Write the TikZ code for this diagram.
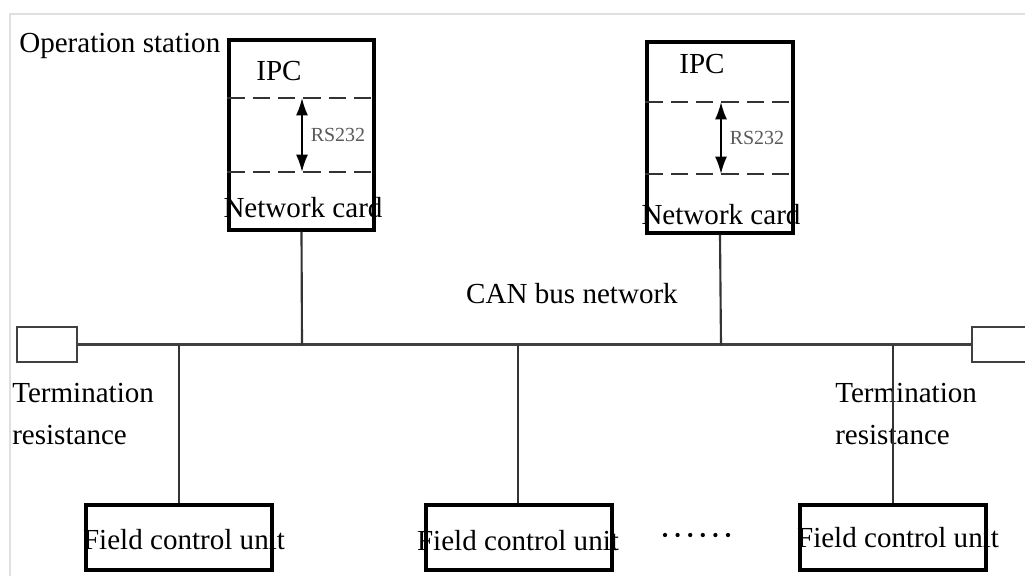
\documentclass[tikz,border=0pt]{standalone}
\usepackage{fontspec}
\setmainfont{Liberation Serif}
\usetikzlibrary{arrows.meta}
\begin{document}
\begin{tikzpicture}[x=0.75pt,y=-0.75pt,
  lbl/.style={inner sep=0pt,font=\fontsize{21.8}{31.5}\selectfont,text=black},
  small/.style={inner sep=0pt,font=\fontsize{15}{18}\selectfont,text=black!65},
  ipcbox/.style={draw=black,line width=2.4pt,rectangle,inner sep=0pt},
  fieldbox/.style={draw=black,line width=2.8pt,rectangle,inner sep=0pt,minimum width=186*0.75pt,minimum height=65*0.75pt},
  termbox/.style={draw=black!75,line width=1.9pt,rectangle,inner sep=0pt,minimum width=60*0.75pt,minimum height=35*0.75pt},
  bus/.style={draw=black!75,line width=1.8pt},
  wire/.style={draw=black!80,line width=1.6pt},
  sep/.style={draw=black!80,line width=1.6pt,dash pattern=on 13pt off 6pt},
  rsarrow/.style={draw=black,line width=1.5pt,{Latex[length=13pt,width=9pt]}-{Latex[length=13pt,width=9pt]}},
  dot/.style={fill=black,circle,inner sep=0pt,minimum size=3.2pt}
]
\useasboundingbox (0,0) rectangle (1025,576);
% light frame
\draw[black!12,line width=2pt] (10,576) -- (10,14) -- (1025,14);

% IPC boxes
\node[ipcbox,minimum width=145*0.75pt,minimum height=190*0.75pt] (ipc1) at (301.5,135) {};
\node[ipcbox,minimum width=146*0.75pt,minimum height=191*0.75pt] (ipc2) at (720,137.5) {};

% dashed separators
\draw[sep] (ipc1.west |- 0,98) -- (ipc1.east |- 0,98);
\draw[sep] (ipc1.west |- 0,172) -- (ipc1.east |- 0,172);
\draw[sep] (ipc2.west |- 0,102) -- (ipc2.east |- 0,102);
\draw[sep] (ipc2.west |- 0,174) -- (ipc2.east |- 0,174);

% RS232 arrows
\coordinate (a1t) at (302,98);  \coordinate (a1b) at (302,172);
\coordinate (a2t) at (721,102); \coordinate (a2b) at (721,174);
\draw[rsarrow] (a1t) -- (a1b);
\draw[rsarrow] (a2t) -- (a2b);
\node[small] (rs1) at (338,135) {RS232};
\node[small] (rs2) at (757,138) {RS232};

% labels in IPC boxes
\node[lbl,anchor=west] (op) at (19,46) {Operation station};
\node[lbl] (ipct1) at (279,71) {IPC};
\node[lbl] (ipct2) at (702,64) {IPC};
\node[lbl] (nc1) at (303,208) {Network card};
\node[lbl] (nc2) at (721,215) {Network card};
\node[lbl] (can) at (572,294) {CAN bus network};

% termination boxes
\node[termbox] (tl) at (47,344.5) {};
\node[termbox] (tr) at (1002,344.5) {};
\node[lbl,anchor=north west,align=left] (ttl) at (12,383) {Termination\\resistance};
\node[lbl,anchor=north west,align=left] (ttr) at (835,383) {Termination\\resistance};

% bus
\draw[bus] (tl.east) -- (tr.west);

% bus taps
\coordinate (b1) at (302,345);
\coordinate (b2) at (721,345);
\coordinate (d1) at (179,345);
\coordinate (d2) at (518,345);
\coordinate (d3) at (893,345);

% field units
\node[fieldbox] (f1) at (179,537.5) {};
\node[fieldbox] (f2) at (519,537.5) {};
\node[fieldbox] (f3) at (893,537.5) {};
\node[lbl] (ft1) at (184,540) {Field control unit};
\node[lbl] (ft2) at (518,541) {Field control unit};
\node[lbl] (ft3) at (898,538) {Field control unit};
\foreach \i in {0,...,5} {
  \node[dot] (dot\i) at (665+12.6*\i,535) {};
}

% wires
\draw[wire] (ipc1.south) -- (b1);
\draw[wire] (ipc2.south) -- (b2);
\draw[wire] (d1) -- (f1.north -| d1);
\draw[wire] (d2) -- (f2.north -| d2);
\draw[wire] (d3) -- (f3.north -| d3);
\end{tikzpicture}
\end{document}
